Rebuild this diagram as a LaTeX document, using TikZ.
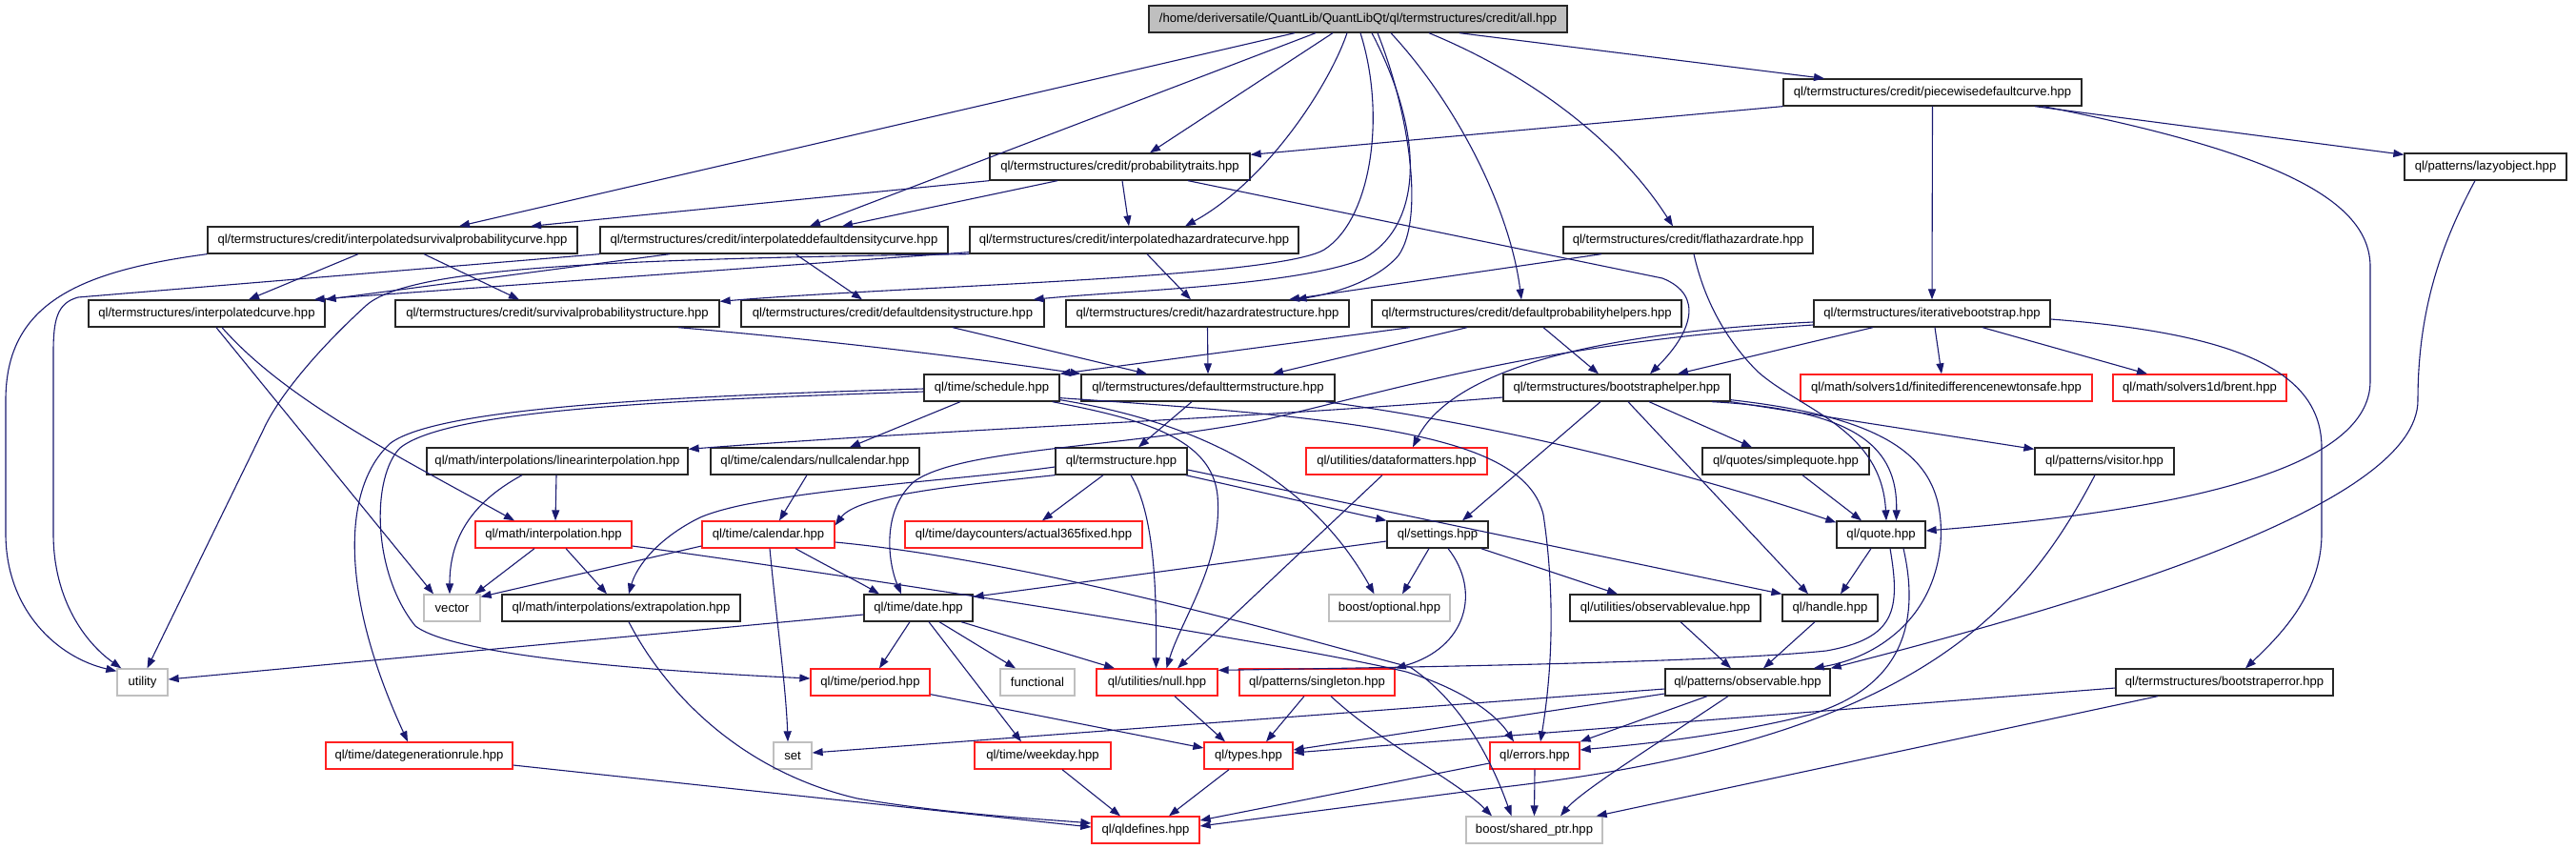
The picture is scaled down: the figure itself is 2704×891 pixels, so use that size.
\documentclass[tikz,border=0pt]{standalone}
\usepackage{fontspec}
\setmainfont{Liberation Sans}
\usetikzlibrary{arrows.meta}
\definecolor{edgeblue}{HTML}{191970}
\definecolor{boxgray}{HTML}{BFBFBF}
\definecolor{boxred}{HTML}{FF2020}
\begin{document}
\begin{tikzpicture}[x=1pt,y=-1pt,
  box/.style={draw, rectangle, minimum height=28pt, inner sep=0pt, line width=1.3pt,
    font=\fontsize{13.1}{15}\selectfont},
  nb/.style={box, draw=black!85},
  rb/.style={box, draw=boxred},
  gb/.style={box, draw=boxgray},
  lnk/.style={draw=edgeblue, line width=1.1pt, -{Triangle[length=11pt,width=8pt]}}]
\fill[white] (0,0) rectangle (2704,891);
\useasboundingbox (0,0) rectangle (2704,891);
% row 0-2
\node[nb, fill=boxgray, minimum width=439pt] (all) at (1425.5,20) {/home/deriversatile/QuantLib/QuantLibQt/ql/termstructures/credit/all.hpp};
\node[nb, minimum width=313pt] (pw) at (2028.5,97) {ql/termstructures/credit/piecewisedefaultcurve.hpp};
\node[nb, minimum width=273pt] (pt) at (1175.5,175) {ql/termstructures/credit/probabilitytraits.hpp};
\node[nb, minimum width=170pt] (lazy) at (2609,175) {ql/patterns/lazyobject.hpp};
% row 3
\node[nb, minimum width=388pt] (isp) at (412,252) {ql/termstructures/credit/interpolatedsurvivalprobabilitycurve.hpp};
\node[nb, minimum width=365pt] (idd) at (812.5,252) {ql/termstructures/credit/interpolateddefaultdensitycurve.hpp};
\node[nb, minimum width=345pt] (ihr) at (1190.5,252) {ql/termstructures/credit/interpolatedhazardratecurve.hpp};
\node[nb, minimum width=262pt] (flat) at (1772,252) {ql/termstructures/credit/flathazardrate.hpp};
% row 4
\node[nb, minimum width=248pt] (icurve) at (217,329) {ql/termstructures/interpolatedcurve.hpp};
\node[nb, minimum width=340pt] (sps) at (585,329) {ql/termstructures/credit/survivalprobabilitystructure.hpp};
\node[nb, minimum width=318pt] (dds) at (937,329) {ql/termstructures/credit/defaultdensitystructure.hpp};
\node[nb, minimum width=297pt] (hrs) at (1267.5,329) {ql/termstructures/credit/hazardratestructure.hpp};
\node[nb, minimum width=325pt] (dph) at (1602.5,329) {ql/termstructures/credit/defaultprobabilityhelpers.hpp};
\node[nb, minimum width=248pt] (ib) at (2028,329) {ql/termstructures/iterativebootstrap.hpp};
% row 5
\node[nb, minimum width=142pt] (sched) at (1041,407) {ql/time/schedule.hpp};
\node[nb, minimum width=266pt] (dts) at (1268,407) {ql/termstructures/defaulttermstructure.hpp};
\node[nb, minimum width=238pt] (bh) at (1697,407) {ql/termstructures/bootstraphelper.hpp};
\node[rb, minimum width=306pt] (fdn) at (2043,407) {ql/math/solvers1d/finitedifferencenewtonsafe.hpp};
\node[rb, minimum width=182pt] (brent) at (2309,407) {ql/math/solvers1d/brent.hpp};
% row 6
\node[nb, minimum width=274pt] (li) at (585,484) {ql/math/interpolations/linearinterpolation.hpp};
\node[nb, minimum width=219pt] (nc) at (855.5,484) {ql/time/calendars/nullcalendar.hpp};
\node[nb, minimum width=138pt] (ts) at (1177,484) {ql/termstructure.hpp};
\node[rb, minimum width=190pt] (dfm) at (1466,484) {ql/utilities/dataformatters.hpp};
\node[nb, minimum width=175pt] (sq) at (1874.5,484) {ql/quotes/simplequote.hpp};
\node[nb, minimum width=146pt] (vis) at (2209,484) {ql/patterns/visitor.hpp};
% row 7
\node[rb, minimum width=164pt] (interp) at (581,561) {ql/math/interpolation.hpp};
\node[rb, minimum width=139pt] (cal) at (806.5,561) {ql/time/calendar.hpp};
\node[rb, minimum width=249pt] (a365) at (1074.5,561) {ql/time/daycounters/actual365fixed.hpp};
\node[nb, minimum width=106pt] (stg) at (1509,561) {ql/settings.hpp};
\node[nb, minimum width=93pt] (quote) at (1974.5,561) {ql/quote.hpp};
% row 8
\node[gb, minimum width=59pt] (vec) at (474.5,638) {vector};
\node[nb, minimum width=250pt] (extrap) at (652,638) {ql/math/interpolations/extrapolation.hpp};
\node[nb, minimum width=114pt] (date) at (964,638) {ql/time/date.hpp};
\node[gb, minimum width=127pt] (opt) at (1458.5,638) {boost/optional.hpp};
\node[nb, minimum width=200pt] (obsval) at (1748,638) {ql/utilities/observablevalue.hpp};
\node[nb, minimum width=100pt] (handle) at (1921,638) {ql/handle.hpp};
% row 9
\node[gb, minimum width=53pt] (util) at (149.5,716) {utility};
\node[rb, minimum width=125pt] (period) at (913.5,716) {ql/time/period.hpp};
\node[gb, minimum width=78pt] (func) at (1089,716) {functional};
\node[rb, minimum width=127pt] (null) at (1214.5,716) {ql/utilities/null.hpp};
\node[rb, minimum width=163pt] (single) at (1382.5,716) {ql/patterns/singleton.hpp};
\node[nb, minimum width=173pt] (obs) at (1834.5,716) {ql/patterns/observable.hpp};
\node[nb, minimum width=228pt] (bse) at (2335,716) {ql/termstructures/bootstraperror.hpp};
% row 10
\node[rb, minimum width=196pt] (dgr) at (440,793) {ql/time/dategenerationrule.hpp};
\node[gb, minimum width=40pt] (setc) at (832,793) {set};
\node[rb, minimum width=143pt] (wd) at (1094.5,793) {ql/time/weekday.hpp};
\node[rb, minimum width=93pt] (types) at (1310.5,793) {ql/types.hpp};
\node[rb, minimum width=94pt] (err) at (1611,793) {ql/errors.hpp};
% row 11
\node[rb, minimum width=113pt] (qld) at (1202.5,871) {ql/qldefines.hpp};
\node[gb, minimum width=143pt] (sp) at (1610.5,871) {boost/shared\_ptr.hpp};

% ---- edges from all.hpp
\draw[lnk] ([xshift=-66.5pt]all.south) -- ([xshift=70pt]isp.north);
\draw[lnk] ([xshift=-44.5pt]all.south) -- ([xshift=37.5pt]idd.north);
\draw[lnk] ([xshift=-26.5pt]all.south) -- ([xshift=31.5pt]pt.north);
\draw[lnk] ([xshift=-11.5pt]all.south) .. controls (1395,90) and (1330,190) .. ([xshift=53.5pt]ihr.north);
\draw[lnk] ([xshift=2.5pt]all.south) .. controls (1455,120) and (1440,230) .. (1390,262) .. controls (1340,292) and (950,300) .. ([yshift=-2pt]sps.north east);
\draw[lnk] ([xshift=14.5pt]all.south) .. controls (1500,150) and (1490,240) .. (1430,272) .. controls (1360,300) and (1180,305) .. ([xshift=-12pt]dds.north east);
\draw[lnk] ([xshift=20.5pt]all.south) .. controls (1480,120) and (1495,230) .. (1468,268) .. controls (1445,295) and (1400,308) .. ([xshift=93pt]hrs.north);
\draw[lnk] ([xshift=34.5pt]all.south) .. controls (1530,110) and (1585,220) .. ([xshift=-5.5pt]dph.north);
\draw[lnk] ([xshift=74.5pt]all.south) .. controls (1610,80) and (1700,150) .. ([xshift=-16pt]flat.north);
\draw[lnk] ([xshift=106.5pt]all.south) -- ([xshift=-113.5pt]pw.north);
% ---- piecewise
\draw[lnk] (pw.south west) -- ([yshift=-2pt]pt.north east);
\draw[lnk] (pw.south) -- (ib.north);
\draw[lnk] ([xshift=107.5pt]pw.south) -- ([yshift=-2pt]lazy.north west);
\draw[lnk] ([xshift=116.5pt]pw.south) .. controls (2390,160) and (2488,210) .. (2488,280) -- (2488,400) .. controls (2488,490) and (2300,535) .. ([yshift=4pt]quote.east);
% ---- probabilitytraits
\draw[lnk] (pt.south west) -- ([xshift=145pt]isp.north);
\draw[lnk] ([xshift=-65.5pt]pt.south) -- ([xshift=71.5pt]idd.north);
\draw[lnk] ([xshift=2.5pt]pt.south) -- ([xshift=-5.5pt]ihr.north);
\draw[lnk] ([xshift=71.5pt]pt.south) -- (1745,292) .. controls (1790,310) and (1775,350) .. ([xshift=35pt]bh.north);
% ---- interpolated survival
\draw[lnk] (isp.south west) .. controls (80,285) and (6,320) .. (6,420) -- (6,560) .. controls (6,640) and (60,690) .. ([yshift=-3pt]util.north west);
\draw[lnk] ([xshift=-36pt]isp.south) -- ([xshift=44pt]icurve.north);
\draw[lnk] ([xshift=33pt]isp.south) -- ([xshift=-40pt]sps.north);
% ---- interpolated default density
\draw[lnk] (idd.south west) -- (82,312) .. controls (60,318) and (56,335) .. (56,370) -- (56,560) .. controls (56,630) and (90,675) .. ([xshift=5pt]util.north west);
\draw[lnk] ([xshift=-109.5pt]idd.south) -- (icurve.north east);
\draw[lnk] ([xshift=22.5pt]idd.south) -- ([xshift=-32pt]dds.north);
% ---- interpolated hazard rate
\draw[lnk] ([yshift=2pt]ihr.south west) -- ([xshift=-12pt]icurve.north east);
\draw[lnk] (ihr.south west) .. controls (620,272) and (430,282) .. (385,320) .. controls (330,370) and (290,420) .. (276,452) -- ([xshift=5pt]util.north);
\draw[lnk] ([xshift=13.5pt]ihr.south) -- ([xshift=-17.5pt]hrs.north);
% ---- flat hazard rate
\draw[lnk] ([xshift=-91pt]flat.south) -- ([xshift=85.5pt]hrs.north);
\draw[lnk] ([xshift=6pt]flat.south) .. controls (1790,320) and (1815,360) .. (1845,390) .. controls (1890,430) and (1975,450) .. ([xshift=5.5pt]quote.north);
% ---- structures to default term structure
\draw[lnk] ([xshift=127pt]sps.south) .. controls (900,360) and (1050,380) .. (dts.north west);
\draw[lnk] ([xshift=63pt]dds.south) -- ([xshift=-64pt]dts.north);
\draw[lnk] (hrs.south) -- (dts.north);
% ---- default probability helpers
\draw[lnk] ([xshift=-122.5pt]dph.south) -- (sched.north east);
\draw[lnk] ([xshift=-62.5pt]dph.south) -- ([xshift=68pt]dts.north);
\draw[lnk] ([xshift=17.5pt]dph.south) -- ([xshift=-19pt]bh.north);
% ---- iterative bootstrap
\draw[lnk] ([xshift=3pt]ib.south) -- ([xshift=-5pt]fdn.north);
\draw[lnk] ([xshift=53pt]ib.south) -- ([xshift=-55pt]brent.north);
\draw[lnk] ([yshift=-6pt]ib.east) .. controls (2350,350) and (2437,390) .. (2437,470) -- (2437,560) .. controls (2437,625) and (2390,670) .. ([xshift=22pt]bse.north);
\draw[lnk] ([xshift=-62pt]ib.south) -- ([xshift=64pt]bh.north);
\draw[lnk] ([yshift=-9pt]ib.west) .. controls (1650,350) and (1520,395) .. ([xshift=17pt]dfm.north);
\draw[lnk] ([yshift=-12pt]ib.west) .. controls (1620,360) and (1480,405) .. (1330,440) .. controls (1180,470) and (1010,470) .. (960,505) .. controls (925,535) and (932,590) .. ([xshift=-18pt]date.north);
% ---- default term structure
\draw[lnk] ([xshift=-17pt]dts.south) -- ([xshift=18pt]ts.north);
\draw[lnk] ([xshift=-10pt]dts.south east) .. controls (1600,450) and (1800,505) .. ([yshift=-2pt]quote.north west);
% ---- bootstrap helper
\draw[lnk] ([xshift=100pt]bh.south) .. controls (1950,430) and (1992,470) .. ([xshift=16pt]quote.north);
\draw[lnk] ([yshift=2pt]bh.south east) .. controls (2000,440) and (2042,490) .. (2037,570) .. controls (2030,650) and (1970,690) .. ([xshift=-18pt]obs.north east);
\draw[lnk] (bh.south east) -- ([yshift=-2pt]vis.north west);
\draw[lnk] ([xshift=-17pt]bh.south) -- ([xshift=26pt]stg.north);
\draw[lnk] ([xshift=12pt]bh.south) -- ([xshift=-23pt]handle.north);
\draw[lnk] ([xshift=34pt]bh.south) -- ([xshift=-35.5pt]sq.north);
\draw[lnk] ([yshift=-10pt]bh.west) .. controls (1300,440) and (1000,450) .. ([yshift=-2pt]li.north east);
% ---- schedule
\draw[lnk] ([xshift=-33pt]sched.south) -- ([xshift=36.5pt]nc.north);
\draw[lnk] ([xshift=-8pt]sched.south east) .. controls (1200,440) and (1272,460) .. (1278,520) .. controls (1284,590) and (1240,650) .. ([xshift=10pt]null.north);
\draw[lnk] ([yshift=2pt]sched.south east) .. controls (1300,450) and (1390,530) .. ([xshift=-16pt]opt.north);
\draw[lnk] ([yshift=4pt]sched.south east) .. controls (1450,440) and (1600,460) .. (1620,540) .. controls (1632,620) and (1630,700) .. ([xshift=6pt]err.north);
\draw[lnk] ([yshift=-4pt]sched.west) .. controls (700,420) and (470,430) .. (420,470) .. controls (390,500) and (390,600) .. (436,657) .. controls (480,690) and (700,705) .. ([yshift=4pt]period.west);
\draw[lnk] ([yshift=-1pt]sched.west) .. controls (700,416) and (460,428) .. (410,465) .. controls (360,510) and (355,620) .. ([xshift=-12pt]dgr.north);
% ---- interpolations and calendars
\draw[lnk] ([xshift=-8.5pt]nc.south) -- ([xshift=11.5pt]cal.north);
\draw[lnk] ([xshift=-1pt]li.south) -- ([xshift=2pt]interp.north);
\draw[lnk] ([xshift=-37pt]li.south) .. controls (490,530) and (472,570) .. ([xshift=-2.5pt]vec.north);
\draw[lnk] ([xshift=10pt]icurve.south) -- ([xshift=-19.5pt]vec.north);
\draw[lnk] ([xshift=16pt]icurve.south) .. controls (300,420) and (420,480) .. ([xshift=-41pt]interp.north);
\draw[lnk] ([xshift=-20pt]interp.south) -- ([xshift=-6pt]vec.north east);
\draw[lnk] ([xshift=13pt]interp.south) -- ([xshift=-15pt]extrap.north);
\draw[lnk] ([yshift=-12pt]interp.east) .. controls (900,605) and (1350,675) .. (1476,705) .. controls (1540,725) and (1572,752) .. ([xshift=-22pt]err.north);
\draw[lnk] ([yshift=-8pt]cal.east) .. controls (1100,590) and (1400,680) .. (1480,700) .. controls (1540,740) and (1570,810) .. ([xshift=-24pt]sp.north);
\draw[lnk] ([yshift=-12pt]cal.west) -- ([yshift=-3pt]vec.north east);
\draw[lnk] ([xshift=28.5pt]cal.south) .. controls (870,595) and (900,610) .. ([xshift=-41pt]date.north);
\draw[lnk] ([xshift=1.5pt]cal.south) .. controls (815,650) and (825,720) .. ([xshift=-5pt]setc.north);
% ---- term structure
\draw[lnk] ([yshift=-6pt]ts.west) .. controls (1000,505) and (800,515) .. (735,543) .. controls (690,565) and (668,595) .. ([xshift=8pt]extrap.north);
\draw[lnk] (ts.south west) .. controls (1000,510) and (900,520) .. ([yshift=-5pt]cal.north east);
\draw[lnk] ([xshift=-19pt]ts.south) -- ([xshift=19.5pt]a365.north);
\draw[lnk] ([xshift=10pt]ts.south) .. controls (1212,540) and (1214,620) .. ([xshift=-1pt]null.north);
\draw[lnk] ([xshift=-2pt]ts.south east) -- (stg.north west);
\draw[lnk] ([yshift=-9pt]ts.east) -- (handle.north west);
\draw[lnk] ([xshift=-15pt]dfm.south) -- ([xshift=21.5pt]null.north);
\draw[lnk] ([xshift=17.5pt]sq.south) -- ([xshift=-20.5pt]quote.north);
\draw[lnk] ([xshift=-10pt]vis.south) .. controls (2120,650) and (2000,780) .. (1560,828) -- ([yshift=4pt]qld.east);
% ---- settings
\draw[lnk] ([yshift=-7pt]stg.west) -- ([yshift=-3pt]date.north east);
\draw[lnk] ([xshift=-9pt]stg.south) -- ([xshift=13.5pt]opt.north);
\draw[lnk] ([xshift=11pt]stg.south) .. controls (1555,620) and (1540,680) .. (single.north east);
\draw[lnk] ([xshift=-8pt]stg.south east) -- ([xshift=-50pt]obsval.north);
% ---- quote
\draw[lnk] ([xshift=-10.5pt]quote.south) -- ([xshift=11pt]handle.north);
\draw[lnk] ([xshift=9.5pt]quote.south) .. controls (1995,640) and (1990,670) .. (1917,683) .. controls (1800,695) and (1500,700) .. ([yshift=-2pt]null.north east);
\draw[lnk] ([xshift=23.5pt]quote.south) .. controls (2015,650) and (2000,720) .. (1900,750) .. controls (1800,775) and (1700,783) .. ([yshift=6pt]err.east);
% ---- observable sources
\draw[lnk] ([xshift=-16pt]handle.south) -- ([xshift=16.5pt]obs.north);
\draw[lnk] ([xshift=16pt]obsval.south) -- ([xshift=-17.5pt]obs.north);
\draw[lnk] ([xshift=-11pt]lazy.south) .. controls (2560,260) and (2538,330) .. (2538,420) .. controls (2538,530) and (2200,630) .. (obs.north east);
% ---- date
\draw[lnk] ([xshift=-9pt]date.south) -- ([xshift=9.5pt]period.north);
\draw[lnk] ([xshift=11pt]date.south) -- ([xshift=-22.5pt]wd.north);
\draw[lnk] ([xshift=22pt]date.south) -- ([xshift=-23pt]func.north);
\draw[lnk] ([xshift=45pt]date.south) -- ([xshift=-44.5pt]null.north);
\draw[lnk] ([yshift=-7pt]date.west) -- ([yshift=3pt]util.east);
% ---- lower rows
\draw[lnk] ([yshift=2pt]period.south east) -- ([yshift=8pt]types.west);
\draw[lnk] ([xshift=18.5pt]null.south) -- ([xshift=-24.5pt]types.north);
\draw[lnk] ([xshift=-13.5pt]single.south) -- ([xshift=18.5pt]types.north);
\draw[lnk] ([xshift=14.5pt]single.south) .. controls (1450,780) and (1530,820) .. ([xshift=-44.5pt]sp.north);
\draw[lnk] ([yshift=-7pt]obs.west) -- ([yshift=3pt]setc.east);
\draw[lnk] ([yshift=-12pt]obs.west) -- ([yshift=6pt]types.east);
\draw[lnk] ([xshift=-42.5pt]obs.south) -- (err.north east);
\draw[lnk] ([xshift=-20.5pt]obs.south) .. controls (1740,780) and (1660,830) .. ([xshift=27.5pt]sp.north);
\draw[lnk] ([yshift=-6pt]bse.west) -- ([yshift=3pt]types.east);
\draw[lnk] ([xshift=-70pt]bse.south) -- ([xshift=-7pt]sp.north east);
\draw[lnk] (err.south) -- (sp.north);
\draw[lnk] ([yshift=-8pt]err.west) -- ([yshift=10pt]qld.east);
\draw[lnk] ([xshift=-20.5pt]types.south) -- ([xshift=24.5pt]qld.north);
\draw[lnk] ([xshift=20.5pt]wd.south) -- ([xshift=-26.5pt]qld.north);
\draw[lnk] ([yshift=-10pt]dgr.east) -- ([yshift=3pt]qld.west);
\draw[lnk] ([xshift=8pt]extrap.south) .. controls (700,730) and (780,810) .. (900,838) .. controls (1000,855) and (1100,860) .. ([yshift=7pt]qld.west);
\end{tikzpicture}
\end{document}
